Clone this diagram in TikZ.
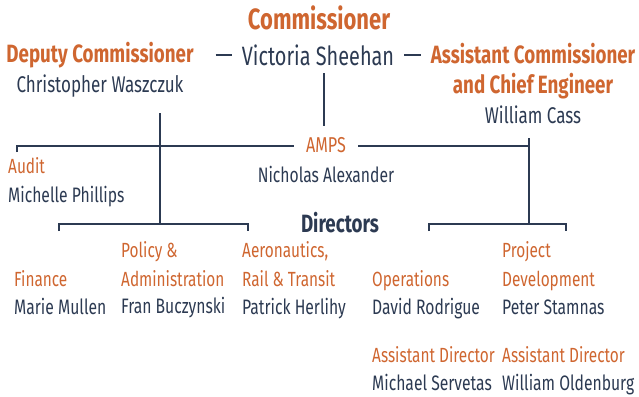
\documentclass[tikz,border=0pt]{standalone}
\usepackage{fontspec}
\setmainfont{Fira Sans}[FakeStretch=0.75]
\definecolor{orng}{HTML}{CF6630}
\definecolor{navy}{HTML}{2C3A52}
\tikzset{
	role/.style={text=orng, font=\fontsize{20.5}{28.5}\selectfont, inner sep=0pt, anchor=base west, align=left},
	head/.style={text=orng, font=\fontsize{25}{30}\selectfont\bfseries, inner sep=0pt, anchor=base, align=center},
	person/.style={text=navy, font=\fontsize{20.9}{29}\selectfont, inner sep=0pt, anchor=base west},
	chief/.style={person, anchor=base, font=\fontsize{22.7}{29}\selectfont},
	link/.style={draw=navy, line width=1.5pt},
}
\begin{document}
\begin{tikzpicture}[x=1pt, y=-1pt]
	\useasboundingbox (0,0) rectangle (639,396);

	% top of the chart
	\node[head, font=\fontsize{29.3}{30}\selectfont\bfseries] (comm) at (319,30) {Commissioner};
	\node[chief, font=\fontsize{26.5}{30}\selectfont] (vs) at (318,65) {Victoria Sheehan};
	\node[head] (dep) at (100,63) {Deputy Commissioner};
	\node[chief] (depn) at (100,92) {Christopher Waszczuk};
	\node[head] (acce) at (533,93) {Assistant Commissioner\\and Chief Engineer};
	\node[chief] (accen) at (533,123) {William Cass};

	% middle row
	\node[role, anchor=base, font=\fontsize{21.5}{29}\selectfont] (amps) at (326,152) {AMPS};
	\node[person, anchor=base] (ampsn) at (326,182) {Nicholas Alexander};
	\node[role] (aud) at (8,173) {Audit};
	\node[person] (audn) at (8,202) {Michelle Phillips};
	\node[head, text=navy] (dirs) at (340,232) {Directors};

	% directors
	\node[role] (fin) at (14,286) {Finance};
	\node[person] (finn) at (14,314) {Marie Mullen};
	\node[role] (pol) at (121,286) {Policy \&\\Administration};
	\node[person] (poln) at (121,313) {Fran Buczynski};
	\node[role] (aero) at (242,286) {Aeronautics,\\Rail \& Transit};
	\node[person] (aeron) at (242,314) {Patrick Herlihy};
	\node[role] (ops) at (372,286) {Operations};
	\node[person] (opsn) at (372,314) {David Rodrigue};
	\node[role] (proj) at (502,286) {Project\\Development};
	\node[person] (projn) at (502,314) {Peter Stamnas};
	\node[role] (ad1) at (372,362) {Assistant Director};
	\node[person] (ad1n) at (372,390) {Michael Servetas};
	\node[role] (ad2) at (502,362) {Assistant Director};
	\node[person] (ad2n) at (502,390) {William Oldenburg};

	% connectors
	\coordinate (k0) at (324,73);
	\coordinate (k1) at (324,126);
	\coordinate (k2) at (160,113);
	\coordinate (k3) at (160,224);
	\coordinate (k4) at (529,138);
	\coordinate (k5) at (529,224);
	\draw[link, shorten <=22pt, shorten >=10pt] (dep.east |- 0,55) -- (vs.west |- 0,55);
	\draw[link, shorten <=10pt, shorten >=10pt] (vs.east |- 0,55) -- (acce.west |- 0,55);
	\draw[link] (k0) -- (k1);
	\draw[link] (aud.north west |- 0,152) ++(9,0) -- ++(0,-6) -- (294,146);
	\draw[link] (358,146) -- (529,146);
	\draw[link] (k2) -- (k3);
	\draw[link] (k4) -- (k5);
	\draw[link] (59,231) -- (59,224) -- (248,224) -- (248,231);
	\draw[link] (429,231) -- (429,224) -- (566,224) -- (566,231);
\end{tikzpicture}
\end{document}
